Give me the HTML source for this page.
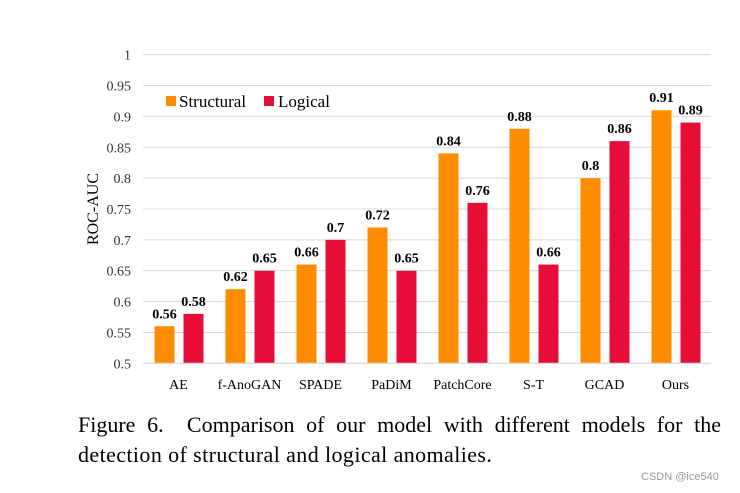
<!DOCTYPE html>
<html><head><meta charset="utf-8"><style>
body{margin:0;background:#fff;width:740px;height:493px;overflow:hidden;position:relative;font-family:"Liberation Serif",serif}
.cap{position:absolute;left:78px;width:643px;font-size:22px;line-height:30px;text-align:justify;text-align-last:justify;color:#000;white-space:nowrap}
</style></head><body>
<svg width="740" height="400" style="position:absolute;left:0;top:0" id="chart"></svg>
<div class="cap" style="top:410px">Figure 6.&nbsp; Comparison of our model with different models for the</div>
<div class="cap" style="top:440px;text-align-last:left;letter-spacing:0.4px">detection of structural and logical anomalies.</div>
<div style="position:absolute;left:641px;top:471px;font-family:'Liberation Sans',sans-serif;font-size:11px;color:#999">CSDN @ice540</div>
<script>
const categories=["AE","f-AnoGAN","SPADE","PaDiM","PatchCore","S-T","GCAD","Ours"];
const structural=[0.56,0.62,0.66,0.72,0.84,0.88,0.8,0.91];
const logical=[0.58,0.65,0.7,0.65,0.76,0.66,0.86,0.89];
const ticks=[0.5,0.55,0.6,0.65,0.7,0.75,0.8,0.85,0.9,0.95,1];
const tickLabels=["0.5","0.55","0.6","0.65","0.7","0.75","0.8","0.85","0.9","0.95","1"];
const structLabels=["0.56","0.62","0.66","0.72","0.84","0.88","0.8","0.91"];
const logLabels=["0.58","0.65","0.7","0.65","0.76","0.66","0.86","0.89"];
const svg=document.getElementById('chart');const NS="http://www.w3.org/2000/svg";
const x0=143,x1=711,yTop=54.7,yBot=363.3;
const y=v=>yBot-(v-0.5)/0.5*(yBot-yTop);
const band=(x1-x0)/categories.length;
const cx=i=>x0+band*(i+0.5);
function mk(t,a,txt){const e=document.createElementNS(NS,t);for(const k in a)e.setAttribute(k,a[k]);if(txt!==undefined)e.textContent=txt;svg.appendChild(e);return e;}
ticks.forEach((t,i)=>{
 const g=mk('line',{x1:x0,x2:x1,y1:y(t),y2:y(t),stroke:'#d9d9d9','stroke-width':1});
 
 
 const l=mk('text',{x:131,y:y(t)+5,'text-anchor':'end','font-size':14,'font-family':'Liberation Serif, serif',fill:'#333'},tickLabels[i]);
 
 
});
const yt=mk('text',{x:0,y:0,transform:'translate(98,209) rotate(-90)','text-anchor':'middle','font-size':16,'font-family':'Liberation Serif, serif',fill:'#000'},'ROC-AUC');


const bw=20;
categories.forEach((c,i)=>{
 const xs=cx(i)-24,xl=cx(i)+5;
 const b1=mk('rect',{x:xs,y:y(structural[i]),width:bw,height:yBot-y(structural[i]),fill:'#FF8C00'});
 
 
 const b2=mk('rect',{x:xl,y:y(logical[i]),width:bw,height:yBot-y(logical[i]),fill:'#E80C38'});
 
 
 const t1=mk('text',{x:xs+bw/2,y:y(structural[i])-8,'text-anchor':'middle','font-size':14,'font-weight':'bold','font-family':'Liberation Serif, serif'},structLabels[i]);
 
 
 const t2=mk('text',{x:xl+bw/2,y:y(logical[i])-8,'text-anchor':'middle','font-size':14,'font-weight':'bold','font-family':'Liberation Serif, serif'},logLabels[i]);
 
 
 const cl=mk('text',{x:cx(i),y:389,'text-anchor':'middle','font-size':14,'font-family':'Liberation Serif, serif'},c);
 
 
});
const ax=mk('line',{x1:x0,x2:x1,y1:yBot,y2:yBot,stroke:'#d9d9d9','stroke-width':1});


const ls=mk('rect',{x:166,y:96,width:10,height:10,fill:'#FF8C00'});


const lt=mk('text',{x:179,y:107,'font-size':17,'font-family':'Liberation Serif, serif'},'Structural');


const lr=mk('rect',{x:264,y:96,width:10,height:10,fill:'#E80C38'});


const lrt=mk('text',{x:278,y:107,'font-size':17,'font-family':'Liberation Serif, serif'},'Logical');


</script>
</body></html>
